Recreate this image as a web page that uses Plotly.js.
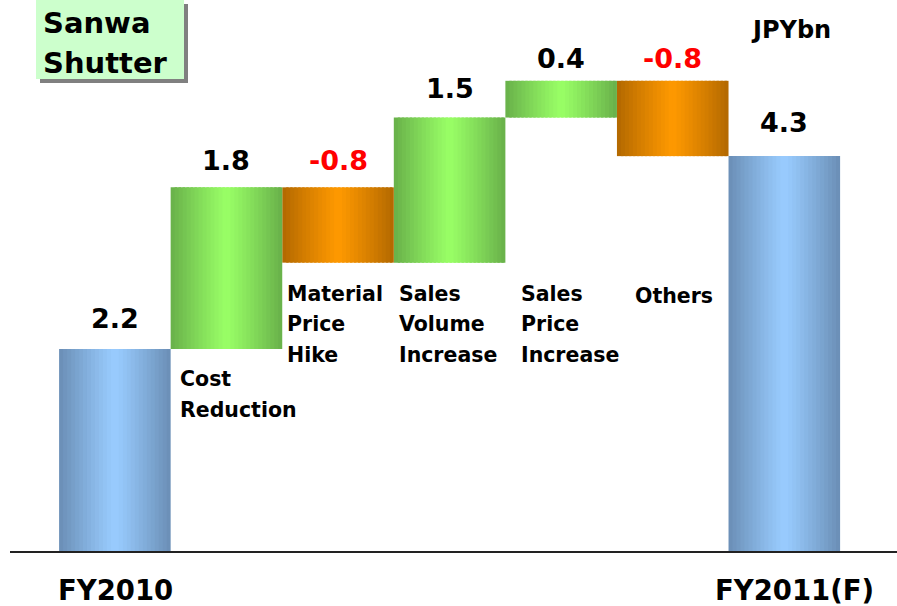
<!DOCTYPE html>
<html>
<head>
<meta charset="utf-8">
<script src="https://cdn.plot.ly/plotly-3.0.1.min.js"></script>
<style>html,body{margin:0;padding:0;background:#fff;}#chart{width:897px;height:606px;}</style>
</head>
<body>
<div id="chart"></div>
<script>
// ---- data ----
const categories = ['FY2010', 'Cost Reduction', 'Material Price Hike', 'Sales Volume Increase', 'Sales Price Increase', 'Others', 'FY2011(F)'];
const measures = ['total', 'relative', 'relative', 'relative', 'relative', 'relative', 'total'];
const values = [2.2, 1.76, -0.82, 1.58, 0.40, -0.82, 4.3];
const valueLabels = ['2.2', '1.8', '-0.8', '1.5', '0.4', '-0.8', '4.3'];
const axisLabels = ['FY2010', '', '', '', '', '', 'FY2011(F)'];
const categoryLines = [[], ['Cost', 'Reduction'], ['Material', 'Price', 'Hike'], ['Sales', 'Volume', 'Increase'], ['Sales', 'Price', 'Increase'], ['Others'], []];
const unitLabel = 'JPYbn';
const titleLines = ['Sanwa', 'Shutter'];

// ---- derived bar geometry (data units) ----
const xs = categories.map((c, i) => i);
const bases = [], heights = [];
let run = 0;
values.forEach((v, i) => {
  if (measures[i] === 'total') { bases.push(0); heights.push(v); run = v; }
  else { bases.push(run); heights.push(v); run += v; }
});
const tops = bases.map((b, i) => Math.max(b, b + heights[i]));
const bottoms = bases.map((b, i) => Math.min(b, b + heights[i]));

// ---- styles ----
const palette = {
  total: { edge: [106, 142, 181], center: [153, 204, 255] },
  up: { edge: [104, 176, 74], center: [153, 255, 102] },
  down: { edge: [178, 104, 0], center: [255, 153, 0] }
};
const kind = values.map((v, i) => measures[i] === 'total' ? 'total' : (v >= 0 ? 'up' : 'down'));
function mix(a, b, t) { return 'rgb(' + a.map((x, j) => Math.round(x + (b[j] - x) * t)).join(',') + ')'; }

const N = 28;
const traces = [];
for (let k = 0; k < N; k++) {
  const off = -0.5 + k / N;
  const w = Math.min(1.6 / N, 0.5 - off);
  const pos = (k + 0.5) / N;
  const t = Math.abs(pos * 2 - 1);
  const tt = Math.pow(t, 1.1);
  traces.push({
    type: 'bar',
    x: xs,
    y: heights,
    base: bases,
    width: xs.map(() => w),
    offset: xs.map(() => off),
    marker: { color: kind.map(kd => mix(palette[kd].center, palette[kd].edge, tt)), line: { width: 0 } },
    hoverinfo: 'skip',
    showlegend: false
  });
}

const FONT = 'DejaVu Sans, Verdana, sans-serif';
const plotW = 887, plotH = 551;
const annotations = [];
// value labels
const labelLift = [30, 27, 27, 29, 22, 22, 34];
valueLabels.forEach((txt, i) => {
  annotations.push({
    x: xs[i], y: tops[i], xref: 'x', yref: 'y', text: '<b>' + txt + '</b>', showarrow: false,
    xanchor: 'center', yanchor: 'middle', yshift: labelLift[i],
    font: { family: FONT, size: 27, color: values[i] < 0 ? '#ff0000' : '#000000' }
  });
});
// category labels (each line separately)
const labelAnchor = [null, 1, 2, 2, 2, 2, null];
const labelXShift = [0, 7, 3, 3, 14, 16, 0];
const labelFirst = [0, -30, -31, -31, -31, -33, 0];
categoryLines.forEach((lines, i) => {
  lines.forEach((ln, j) => {
    annotations.push({
      x: xs[i] - 0.5, y: bottoms[labelAnchor[i]], xref: 'x', yref: 'y', text: '<b>' + ln + '</b>', showarrow: false,
      xanchor: 'left', yanchor: 'middle', xshift: labelXShift[i], yshift: labelFirst[i] - j * 30.8,
      font: { family: FONT, size: 20.5, color: '#000000' }
    });
  });
});
// axis labels
axisLabels.forEach((txt, i) => {
  if (!txt) return;
  annotations.push({
    x: xs[i], y: 0, xref: 'x', yref: 'paper', text: '<b>' + txt + '</b>', showarrow: false,
    xanchor: 'center', yanchor: 'middle', yshift: -39, xshift: i === 6 ? 10 : 1,
    font: { family: FONT, size: 27.5, color: '#000000' }
  });
});
// unit
annotations.push({
  x: (791 - 10) / plotW, y: 1 - 30 / plotH, xref: 'paper', yref: 'paper', text: '<b>' + unitLabel + '</b>', showarrow: false,
  xanchor: 'center', yanchor: 'middle',
  font: { family: FONT, size: 24, color: '#000000' }
});
// title box lines
titleLines.forEach((ln, j) => {
  annotations.push({
    x: (41 - 10) / plotW, y: 1 - (23 + j * 40.5) / plotH, xref: 'paper', yref: 'paper',
    text: '<b>' + ln + '</b>', showarrow: false, xanchor: 'left', yanchor: 'middle',
    font: { family: FONT, size: 29, color: '#000000' }
  });
});

const shapes = [
  { type: 'rect', xref: 'paper', yref: 'paper', x0: (40 - 10) / plotW, x1: (188 - 10) / plotW, y0: 1 - 83 / plotH, y1: 1 - 4 / plotH,
    fillcolor: '#808080', line: { width: 0 }, layer: 'above' },
  { type: 'rect', xref: 'paper', yref: 'paper', x0: (36 - 10) / plotW, x1: (184 - 10) / plotW, y0: 1 - 79 / plotH, y1: 1.01,
    fillcolor: '#ccffcc', line: { width: 0 }, layer: 'above' }
];

const layout = {
  width: 897, height: 606,
  margin: { l: 10, r: 0, t: 0, b: 55 },
  paper_bgcolor: '#ffffff', plot_bgcolor: '#ffffff',
  barmode: 'overlay',
  xaxis: { range: [-0.94, 7.01], showgrid: false, zeroline: false, showticklabels: false, ticks: '',
           showline: true, linecolor: '#222222', linewidth: 2, fixedrange: true },
  yaxis: { range: [0, 6], showgrid: false, zeroline: false, showticklabels: false, ticks: '', showline: false, fixedrange: true },
  annotations: annotations,
  shapes: shapes,
  showlegend: false
};

Plotly.newPlot('chart', traces, layout, { displayModeBar: false, staticPlot: true });
</script>
</body>
</html>
